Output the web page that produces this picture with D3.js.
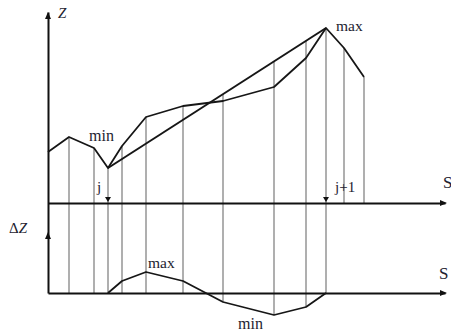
<!DOCTYPE html>
<html>
<head>
<meta charset="utf-8">
<script src="https://cdn.jsdelivr.net/npm/d3@7"></script>
<style>
  html, body { margin: 0; padding: 0; background: #fff; }
  svg { display: block; }
</style>
</head>
<body>
<svg id="chart" width="451" height="331"></svg>
<script>
// Profile along the path: station positions s and elevations z
const sPos = [0, 2.1, 4.6, 6.0, 7.4, 9.8, 13.5, 17.5, 22.6, 25.8, 27.8, 29.6, 31.6];
const zVal = [5.1, 6.6, 5.5, 3.5, 5.7, 8.6, 9.7, 10.2, 11.6, 14.5, 17.5, 15.5, 12.6];
// Stations j (local minimum) and j+1 (local maximum)
const jIndex = 3;
const j1Index = 10;
// Deviation of the profile from the j .. j+1 chord, stations j .. j+1
const dzVal = [0, 1.2, 2.1, 1.2, -0.9, -2.2, -1.4, 0];

const FONT = "'Liberation Serif', 'Times New Roman', 'DejaVu Serif', serif";
const svg = d3.select("#chart");

const x = d3.scaleLinear().domain([0, 39.7]).range([48, 445]);
const z = d3.scaleLinear().domain([-9, 19.1]).range([293, 12]);
const dz = d3.scaleLinear().domain([0, 6.1]).range([293, 232]);

const chordZ = s => {
  const s0 = sPos[jIndex], s1 = sPos[j1Index];
  const z0 = zVal[jIndex], z1 = zVal[j1Index];
  return z0 + (z1 - z0) * (s - s0) / (s1 - s0);
};

// Station verticals: from the upper envelope of profile and chord down to the lower panel
const verticals = sPos.map((s, i) => {
  let top = zVal[i];
  if (i >= jIndex && i <= j1Index) top = Math.max(top, chordZ(s));
  let bottom;
  if (i > j1Index) bottom = z(0);
  else if (i >= jIndex) bottom = Math.max(dz(0), dz(dzVal[i - jIndex]));
  else bottom = dz(0);
  return { s, top: z(top), bottom, i };
}).filter(d => d.i > 0);

svg.append("g")
  .selectAll("line")
  .data(verticals)
  .join("line")
  .attr("x1", d => x(d.s)).attr("x2", d => x(d.s))
  .attr("y1", d => d.top).attr("y2", d => d.bottom)
  .attr("stroke", "#8d8d8d")
  .attr("stroke-width", 1.4);

// Axes (lines only, no ticks)
const axisStyle = g => {
  g.select(".domain").attr("stroke", "#111").attr("stroke-width", 2);
};
svg.append("g")
  .attr("transform", `translate(0,${z(0)})`)
  .call(d3.axisBottom(x).tickValues([]).tickSizeOuter(0))
  .call(axisStyle);
svg.append("g")
  .attr("transform", `translate(0,${dz(0)})`)
  .call(d3.axisBottom(x).tickValues([]).tickSizeOuter(0))
  .call(axisStyle);
svg.append("g")
  .attr("transform", `translate(${x(0)},0)`)
  .call(d3.axisLeft(z).tickValues([]).tickSizeOuter(0))
  .call(axisStyle);

// Arrowheads and station markers
const arrowUp = (cx, cy) => `M${cx},${cy} L${cx - 3},${cy + 7} L${cx + 3},${cy + 7} Z`;
const arrowRight = (cx, cy) => `M${cx},${cy} L${cx - 7},${cy - 3} L${cx - 7},${cy + 3} Z`;
const arrowDown = (cx, cy) => `M${cx},${cy} L${cx - 3},${cy - 5} L${cx + 3},${cy - 5} Z`;
const arrows = [
  arrowUp(x(0), z.range()[1]),
  arrowUp(x(0), dz.range()[1]),
  arrowRight(x.range()[1] + 2, z(0)),
  arrowRight(x.range()[1] + 2, dz(0)),
  arrowDown(x(sPos[jIndex]), z(0) - 1),
  arrowDown(x(sPos[j1Index]), z(0) - 1)
];
svg.append("g").selectAll("path").data(arrows).join("path")
  .attr("d", d => d).attr("fill", "#111");

// Profile and chord
const profile = d3.line().x((d, i) => x(sPos[i])).y(d => z(d));
svg.append("path")
  .datum(zVal)
  .attr("d", profile)
  .attr("fill", "none").attr("stroke", "#161616").attr("stroke-width", 1.8)
  .attr("stroke-linejoin", "round");

svg.append("line")
  .attr("x1", x(sPos[jIndex])).attr("y1", z(zVal[jIndex]))
  .attr("x2", x(sPos[j1Index])).attr("y2", z(zVal[j1Index]))
  .attr("stroke", "#161616").attr("stroke-width", 2);

// Deviation curve
const devLine = d3.line().x((d, i) => x(sPos[jIndex + i])).y(d => dz(d));
svg.append("path")
  .datum(dzVal)
  .attr("d", devLine)
  .attr("fill", "none").attr("stroke", "#161616").attr("stroke-width", 1.8)
  .attr("stroke-linejoin", "round");

// Labels
const label = (tx, ty, txt, size, italic) => svg.append("text")
  .attr("x", tx).attr("y", ty)
  .attr("font-family", FONT)
  .attr("font-size", size)
  .attr("font-style", italic ? "italic" : null)
  .attr("fill", "#1d2230")
  .text(txt);

label(x(0) + 10, 18, "Z", 15, true);
const dzLabel = svg.append("text").attr("x", 9).attr("y", 233)
  .attr("font-family", FONT).attr("font-size", 15).attr("fill", "#1d2230");
dzLabel.append("tspan").text("Δ");
dzLabel.append("tspan").attr("font-style", "italic").text("Z");
label(443, 188, "S", 17, false);
label(439, 279, "S", 17, false);

label(x(sPos[j1Index]) + 10, z(zVal[j1Index]) + 3, "max", 15.5, false);
label(x(sPos[jIndex]) - 19, z(zVal[jIndex]) - 27, "min", 16, false);
label(x(sPos[jIndex]) - 11, 192, "j", 15, false);
label(x(sPos[j1Index]) + 9, 192, "j+1", 15, false);

const dzMaxI = dzVal.indexOf(d3.max(dzVal));
const dzMinI = dzVal.indexOf(d3.min(dzVal));
label(x(sPos[jIndex + dzMaxI]) + 2, dz(dzVal[dzMaxI]) - 4, "max", 15.5, false);
label(x(sPos[jIndex + dzMinI]) - 36, dz(dzVal[dzMinI]) + 14, "min", 16, false);
</script>
</body>
</html>
